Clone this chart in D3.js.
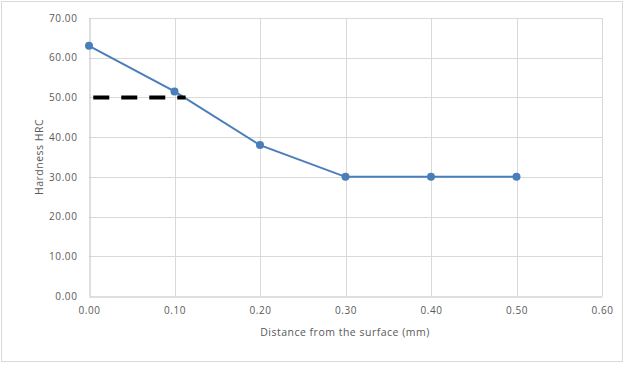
<!DOCTYPE html>
<html><head><meta charset="utf-8">
<script src="https://cdn.jsdelivr.net/npm/d3@7"></script>
<style>body{margin:0;background:#fff;} svg{display:block;}</style>
</head><body>
<svg id="c" width="625" height="365"></svg>
<script>
const xValues = [0.00, 0.10, 0.20, 0.30, 0.40, 0.50];
const hardness = [63.0, 51.5, 38.0, 30.0, 30.0, 30.0];
const limitX = [0.005, 0.113];
const limitY = [50, 50];
const xTicks = [0, 0.1, 0.2, 0.3, 0.4, 0.5, 0.6];
const yTicks = [0, 10, 20, 30, 40, 50, 60, 70];
const xTitle = "Distance from the surface (mm)";
const yTitle = "Hardness HRC";

const svg = d3.select("#c");
const font = "'Open Sans', 'DejaVu Sans', sans-serif";
svg.append("rect").attr("x",1.5).attr("y",1.5).attr("width",621).attr("height",360)
  .attr("fill","#fff").attr("stroke","#d9d9d9");

const x = d3.scaleLinear().domain([0,0.6]).range([89,602]);
const y = d3.scaleLinear().domain([0,70]).range([296,18]);

// grid
svg.append("g").selectAll("line").data(yTicks.slice(1)).join("line")
  .attr("x1",x(0)).attr("x2",x(0.6)).attr("y1",d=>Math.round(y(d))+0.5).attr("y2",d=>Math.round(y(d))+0.5)
  .attr("stroke","#d9d9d9");
svg.append("g").selectAll("line").data(xTicks.slice(1)).join("line")
  .attr("y1",y(0)).attr("y2",y(70)).attr("x1",d=>Math.round(x(d))+0.5).attr("x2",d=>Math.round(x(d))+0.5)
  .attr("stroke","#d9d9d9");

// axes
const xa = svg.append("g").attr("transform",`translate(0,${y(0)+0.5})`)
  .call(d3.axisBottom(x).tickValues(xTicks).tickFormat(d3.format(".2f")).tickSize(0).tickPadding(10));
const ya = svg.append("g").attr("transform",`translate(${x(0)+0.5},0)`)
  .call(d3.axisLeft(y).tickValues(yTicks).tickFormat(d3.format(".2f")).tickSize(0).tickPadding(12));
[xa,ya].forEach(a=>{
  a.select(".domain").attr("stroke","#bfbfbf");
  a.selectAll("text").attr("fill","#595959").style("font-family",font).style("font-size","10px")
    .style("letter-spacing","0.6px");
});

// series
const pts = xValues.map((v,i)=>[v,hardness[i]]);
svg.append("path").datum(pts)
  .attr("d",d3.line().x(d=>x(d[0])).y(d=>y(d[1])))
  .attr("fill","none").attr("stroke","#4a7ebb").attr("stroke-width",2);
svg.append("g").selectAll("circle").data(pts).join("circle")
  .attr("cx",d=>x(d[0])).attr("cy",d=>y(d[1])).attr("r",4).attr("fill","#4a7ebb");

// dashed limit line
const lim = limitX.map((v,i)=>[v,limitY[i]]);
svg.append("path").datum(lim)
  .attr("d",d3.line().x(d=>x(d[0])).y(d=>y(d[1])))
  .attr("fill","none").attr("stroke","#000").attr("stroke-width",4).attr("stroke-dasharray","16,12");

// titles
svg.append("text").attr("x",345).attr("y",336).attr("text-anchor","middle")
  .attr("fill","#595959").style("font-family",font).style("font-size","10.5px")
  .style("letter-spacing","0.5px").text(xTitle);
svg.append("text").attr("transform","translate(43,157) rotate(-90)").attr("text-anchor","middle")
  .attr("fill","#595959").style("font-family",font).style("font-size","10.5px")
  .style("letter-spacing","0.5px").text(yTitle);
</script>
</body></html>
